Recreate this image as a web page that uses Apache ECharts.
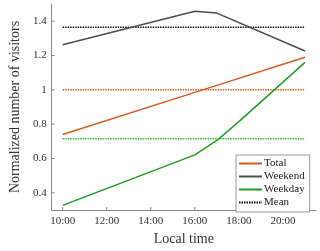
<!DOCTYPE html>
<html>
<head>
<meta charset="utf-8">
<script src="https://cdn.jsdelivr.net/npm/echarts@6/dist/echarts.min.js"></script>
<style>html,body{margin:0;padding:0;background:#fff;}#c{width:320px;height:251px;}</style>
</head>
<body>
<div id="c"></div>
<script>
// Data (hours of local time)
var totalHours = [10, 16, 17, 21];
var totalValues = [0.74, 0.985, 1.026, 1.19];
var weekendHours = [10, 16, 17, 21];
var weekendValues = [1.263, 1.458, 1.447, 1.226];
var weekdayHours = [10, 16, 17, 18, 19, 20, 21];
var weekdayValues = [0.327, 0.621, 0.705, 0.815, 0.93, 1.045, 1.16];
var meanHours = [10, 21];
var totalMean = 1.0;
var weekendMean = 1.365;
var weekdayMean = 0.715;
var xTickValues = [10, 12, 14, 16, 18, 20];
var yTickValues = [0.4, 0.6, 0.8, 1.0, 1.2, 1.4];

function pairs(xs, ys) { return xs.map(function (x, i) { return [x, ys[i]]; }); }
function flat(xs, v) { return xs.map(function (x) { return [x, v]; }); }

var serif = '"Liberation Serif", "DejaVu Serif", serif';
var cTotal = '#E0561C', cWeekend = '#4D4D4D', cWeekday = '#1E9E1E';

function near(v, arr) { return arr.some(function (t) { return Math.abs(t - v) < 1e-6; }); }

var chart = echarts.init(document.getElementById('c'), null, { renderer: 'canvas' });
chart.setOption({
  animation: false,
  backgroundColor: '#fff',
  grid: { left: 39, right: 4, top: 4, bottom: 34 },
  xAxis: {
    type: 'value', min: 9.5, max: 21.5, interval: 0.5,
    name: 'Local time', nameLocation: 'middle', nameGap: 22,
    nameTextStyle: { fontFamily: serif, fontSize: 14, color: '#333', verticalAlign: 'top' },
    axisLine: { show: true, onZero: false, lineStyle: { color: '#8a8a8a', width: 1 } },
    axisTick: { show: false },
    splitLine: { show: false },
    axisLabel: {
      fontFamily: serif, fontSize: 11, color: '#333', margin: 6,
      showMinLabel: false, showMaxLabel: false,
      formatter: function (v) { return near(v, xTickValues) ? (v + ':00') : ''; }
    }
  },
  yAxis: {
    type: 'value', min: 0.3, max: 1.5, interval: 0.1,
    name: 'Normalized number of visitors', nameLocation: 'middle', nameGap: 23,
    nameTextStyle: { fontFamily: serif, fontSize: 14, color: '#333' },
    axisLine: { show: true, onZero: false, lineStyle: { color: '#8a8a8a', width: 1 } },
    axisTick: { show: false },
    splitLine: { show: false },
    axisLabel: {
      fontFamily: serif, fontSize: 11, color: '#333', margin: 5,
      showMinLabel: false, showMaxLabel: false,
      formatter: function (v) {
        if (!near(v, yTickValues)) return '';
        return Math.abs(v - 1) < 1e-6 ? '1' : v.toFixed(1);
      }
    }
  },
  legend: {
    orient: 'vertical', left: 236, top: 155,
    data: ['Total', 'Weekend', 'Weekday', 'Mean'],
    itemWidth: 23, itemHeight: 12, itemGap: 2,
    padding: [3, 5, 4, 2],
    itemStyle: { opacity: 0 },
    backgroundColor: '#fff', borderColor: '#9a9a9a', borderWidth: 1, borderRadius: 0,
    textStyle: { fontFamily: serif, fontSize: 11, color: '#222', padding: [0, 0, 0, -3] }
  },
  series: [
    { name: 'Total', type: 'line', symbol: 'none', data: pairs(totalHours, totalValues),
      lineStyle: { color: cTotal, width: 1.5 }, itemStyle: { color: cTotal }, z: 3 },
    { name: 'Weekend', type: 'line', symbol: 'none', data: pairs(weekendHours, weekendValues),
      lineStyle: { color: cWeekend, width: 1.5 }, itemStyle: { color: cWeekend }, z: 3 },
    { name: 'Weekday', type: 'line', symbol: 'none', data: pairs(weekdayHours, weekdayValues),
      lineStyle: { color: cWeekday, width: 1.5 }, itemStyle: { color: cWeekday }, z: 3 },
    { name: 'Mean', type: 'line', symbol: 'none', data: flat(meanHours, weekendMean),
      lineStyle: { color: '#111', width: 1.5, type: [1.5, 1] }, itemStyle: { color: '#111' }, z: 2 },
    { name: 'meanTotal', type: 'line', symbol: 'none', data: flat(meanHours, totalMean),
      lineStyle: { color: cTotal, width: 1.5, type: [1.5, 1] }, itemStyle: { color: cTotal }, z: 2 },
    { name: 'meanWeekday', type: 'line', symbol: 'none', data: flat(meanHours, weekdayMean),
      lineStyle: { color: '#2bc02b', width: 1.5, type: [1.5, 1] }, itemStyle: { color: '#2bc02b' }, z: 2 },
    { name: 'xticks', type: 'custom', silent: true, data: xTickValues.map(function (v) { return [v]; }),
      renderItem: function (params, api) {
        var p = api.coord([api.value(0), 0.3]);
        return { type: 'line', shape: { x1: p[0], y1: p[1], x2: p[0], y2: p[1] - 3 },
          style: { stroke: '#8a8a8a', lineWidth: 1 } };
      }, encode: { x: 0 }, z: 1 },
    { name: 'yticks', type: 'custom', silent: true, data: yTickValues.map(function (v) { return [9.5, v]; }),
      renderItem: function (params, api) {
        var p = api.coord([9.5, api.value(1)]);
        return { type: 'line', shape: { x1: p[0], y1: p[1], x2: p[0] + 3, y2: p[1] },
          style: { stroke: '#8a8a8a', lineWidth: 1 } };
      }, encode: { x: 0, y: 1 }, z: 1 }
  ]
});
</script>
</body>
</html>
